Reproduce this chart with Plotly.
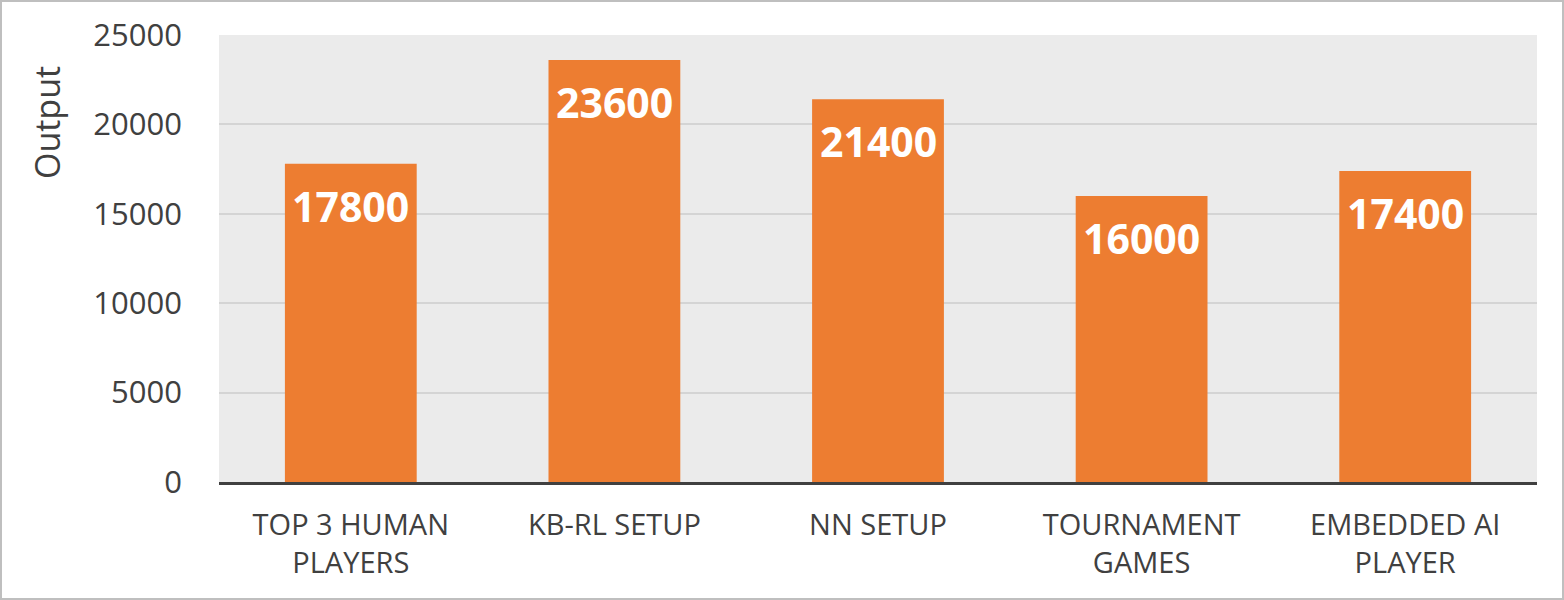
import plotly.graph_objects as go

categories = ["TOP 3 HUMAN<br>PLAYERS", "KB-RL SETUP", "NN SETUP", "TOURNAMENT<br>GAMES", "EMBEDDED AI<br>PLAYER"]
values = [17800, 23600, 21400, 16000, 17400]
y_ticks = [0, 5000, 10000, 15000, 20000, 25000]

FONT = "Open Sans, Noto Sans, sans-serif"

fig = go.Figure(go.Bar(
    x=categories, y=values,
    marker=dict(color="#ED7D31", line=dict(width=0)),
    hoverinfo="x+y",
))

# value labels inside the top of each bar
for c, v in zip(categories, values):
    fig.add_annotation(
        x=c, y=v, xref="x", yref="y", text=f"<b>{v}</b>", showarrow=False,
        yanchor="top", yshift=-12,
        font=dict(family=FONT, size=41, color="white"),
    )

fig.add_annotation(
    text="Output", xref="paper", yref="paper", x=-0.1305, y=0.803,
    textangle=-90, showarrow=False, xanchor="center", yanchor="middle",
    font=dict(family=FONT, size=34, color="#404040"),
)

fig.update_layout(
    width=1564, height=600,
    margin=dict(l=219, r=27, t=35, b=118),
    paper_bgcolor="white",
    plot_bgcolor="#ebebeb",
    bargap=0.5,
    showlegend=False,
    font=dict(family=FONT, color="#404040"),
    xaxis=dict(
        showgrid=False, showline=True, linecolor="#404040", linewidth=3,
        tickfont=dict(size=29, color="#404040"), ticks="",
        ticklabelstandoff=15,
    ),
    yaxis=dict(
        range=[0, 25000], tickvals=y_ticks, ticktext=[str(t) for t in y_ticks],
        showgrid=True, gridcolor="#d4d4d4", gridwidth=1.5, zeroline=False,
        tickfont=dict(size=31, color="#404040"), ticks="", ticklen=0,
        ticklabelstandoff=36,
    ),
    shapes=[dict(type="rect", xref="paper", yref="paper",
                 x0=-218/1318, x1=1+26/1318, y0=-117/447, y1=1+34/447,
                 line=dict(color="#bfbfbf", width=2))],
)

fig.write_html("out.html", config={"displayModeBar": False},
               post_script="document.body.style.margin='0';document.body.style.overflow='hidden';")
